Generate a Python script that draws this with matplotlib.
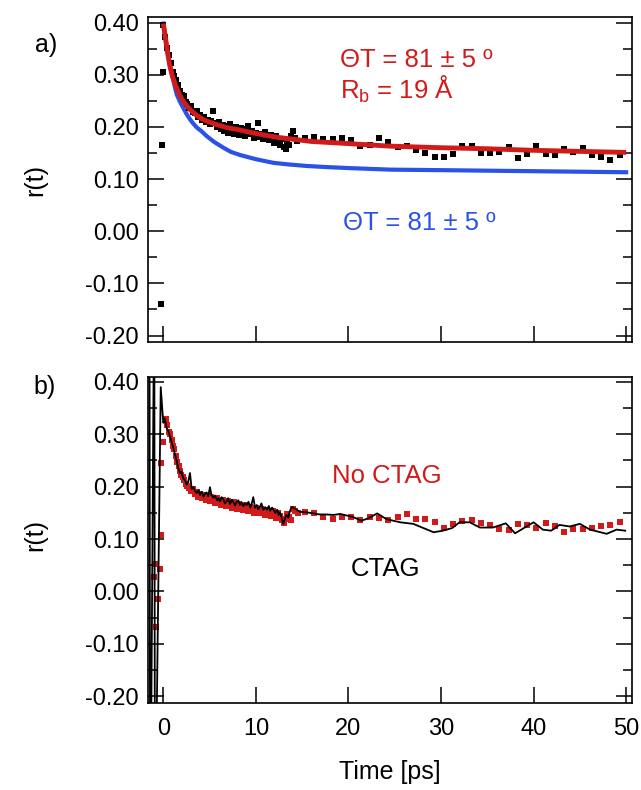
import numpy as np
import matplotlib.pyplot as plt
from matplotlib.ticker import MultipleLocator, FormatStrFormatter

plt.rcParams['font.family'] = ['Liberation Sans', 'DejaVu Sans']
plt.rcParams['mathtext.fontset'] = 'custom'
plt.rcParams['mathtext.rm'] = 'Liberation Sans'
plt.rcParams['mathtext.default'] = 'regular'

RED = '#d11a1a'
BLUE = '#2a52e6'

# ---- panel a: anisotropy decay with two model fits ----
t_a = [-0.3, -0.15, -0.05,
       0.0, 0.2, 0.4, 0.6, 0.8, 1.0, 1.2, 1.4, 1.6, 1.8, 2.0, 2.2, 2.4, 2.6, 2.8,
       3.0, 3.2, 3.4, 3.6, 3.8, 4.0, 4.2, 4.4, 4.6, 4.8, 5.0, 5.2, 5.4, 5.6, 5.8,
       6.0, 6.2, 6.4, 6.6, 6.8, 7.0, 7.2, 7.4, 7.6, 7.8, 8.0, 8.2, 8.4, 8.6, 8.8,
       9.0, 9.2, 9.4, 9.6, 9.8, 10.0, 10.2, 10.4, 10.6, 10.8, 11.0, 11.2, 11.4,
       11.6, 11.8, 12.0, 12.2, 12.4, 12.6, 12.8, 13.0, 13.2, 13.4, 13.6, 13.8,
       14.0, 14.2, 14.4,
       15.3, 16.3, 17.3, 18.3, 19.3, 20.3, 21.3, 22.3, 23.3, 24.3, 25.3, 26.3,
       27.3, 28.3, 29.3, 30.3, 31.3, 32.3, 33.3, 34.3, 35.3, 36.3, 37.3, 38.3,
       39.3, 40.3, 41.3, 42.3, 43.3, 44.3, 45.3, 46.3, 47.3, 48.3, 49.3]
r_a = [-0.140, 0.165, 0.305,
       0.395, 0.372, 0.352, 0.338, 0.322, 0.305, 0.298, 0.290, 0.280, 0.268,
       0.262, 0.259, 0.247, 0.243, 0.236, 0.240, 0.228, 0.226, 0.231, 0.219,
       0.222, 0.214, 0.218, 0.209, 0.213, 0.205, 0.212, 0.230, 0.207, 0.199,
       0.210, 0.196, 0.204, 0.192, 0.201, 0.189, 0.205, 0.196, 0.187, 0.199,
       0.193, 0.185, 0.197, 0.190, 0.183, 0.195, 0.201, 0.186, 0.192, 0.179,
       0.188, 0.208, 0.181, 0.187, 0.176, 0.191, 0.183, 0.174, 0.185, 0.178,
       0.170, 0.182, 0.172, 0.166, 0.177, 0.162, 0.158, 0.171, 0.165, 0.183,
       0.193, 0.178, 0.172,
       0.179, 0.181, 0.176, 0.176, 0.178, 0.174, 0.164, 0.166, 0.178, 0.171,
       0.162, 0.163, 0.155, 0.150, 0.142, 0.142, 0.148, 0.163, 0.164, 0.150,
       0.150, 0.151, 0.161, 0.140, 0.148, 0.164, 0.148, 0.146, 0.158, 0.151,
       0.159, 0.146, 0.142, 0.137, 0.146]

# fit with bulk rotation (red) and wobbling-only fit (blue)
t_fit_red = [0.0, 0.15, 0.3, 0.5, 0.7, 1.0, 1.25, 1.5, 1.8, 2.2, 2.6, 3.0,
             3.6, 4.1, 4.7, 5.3, 6.0, 7.0, 8.3, 9.5, 11.0, 12.3, 13.7, 16.0,
             19.0, 24.5, 30.0, 35.0, 40.0, 45.0, 50.0]
r_fit_red = [0.398, 0.380, 0.362, 0.338, 0.318, 0.296, 0.283, 0.272, 0.260,
             0.248, 0.239, 0.231, 0.222, 0.216, 0.211, 0.207, 0.203, 0.198,
             0.194, 0.189, 0.184, 0.180, 0.177, 0.172, 0.169, 0.163, 0.160,
             0.158, 0.155, 0.153, 0.151]
t_fit_blue = [0.0, 0.15, 0.3, 0.5, 0.7, 0.85, 1.08, 1.25, 1.45, 1.8, 2.16,
              2.5, 2.9, 3.2, 3.6, 4.1, 4.7, 5.5, 6.5, 7.3, 8.3, 10.0, 11.9,
              13.5, 15.5, 17.5, 20.0, 24.5, 30.0, 35.0, 40.0, 45.0, 50.0]
r_fit_blue = [0.398, 0.380, 0.362, 0.338, 0.318, 0.305, 0.290, 0.276, 0.262,
              0.248, 0.236, 0.225, 0.214, 0.207, 0.199, 0.192, 0.182, 0.171,
              0.160, 0.152, 0.146, 0.138, 0.131, 0.128, 0.125, 0.123, 0.121,
              0.118, 0.117, 0.116, 0.115, 0.114, 0.113]

# ---- panel b: with / without CTAG ----
t_noctag = [-1.0, -0.9, -0.79, -0.54, -0.36, -0.28, -0.25, -0.07,
            0.30, 0.45, 0.6, 0.75, 0.9, 1.05, 1.2, 1.35, 1.5, 1.65, 1.8, 1.95,
            2.1, 2.25, 2.4, 2.6, 2.8, 3.0, 3.2, 3.4, 3.6, 3.8, 4.0, 4.2, 4.4,
            4.6, 4.8, 5.0, 5.2, 5.4, 5.6, 5.8, 6.0, 6.2, 6.4, 6.6, 6.8, 7.0,
            7.2, 7.4, 7.6, 7.8, 8.0, 8.2, 8.4, 8.6, 8.8, 9.0, 9.2, 9.4, 9.6,
            9.8, 10.0, 10.2, 10.4, 10.6, 10.8, 11.0, 11.2, 11.4, 11.6, 11.8,
            12.0, 12.2, 12.4, 12.6, 12.8, 13.0, 13.2, 13.4, 13.6, 13.8, 14.0,
            14.2, 14.5,
            15.3, 16.3, 17.3, 18.3, 19.3, 20.3, 21.3, 22.3, 23.3, 24.3, 25.3,
            26.3, 27.3, 28.3, 29.3, 30.3, 31.3, 32.3, 33.3, 34.3, 35.3, 36.3,
            37.3, 38.3, 39.3, 40.3, 41.3, 42.3, 43.3, 44.3, 45.3, 46.3, 47.3,
            48.3, 49.3]
r_noctag = [0.027, 0.052, -0.067, -0.015, 0.043, 0.107, 0.245, 0.285,
            0.330, 0.318, 0.305, 0.300, 0.290, 0.278, 0.272, 0.258, 0.248,
            0.240, 0.230, 0.222, 0.219, 0.212, 0.206, 0.201, 0.197, 0.192,
            0.195, 0.186, 0.189, 0.181, 0.186, 0.178, 0.184, 0.175, 0.182,
            0.172, 0.180, 0.174, 0.169, 0.178, 0.171, 0.165, 0.175, 0.168,
            0.163, 0.172, 0.166, 0.160, 0.170, 0.163, 0.158, 0.167, 0.161,
            0.155, 0.165, 0.158, 0.153, 0.162, 0.156, 0.150, 0.160, 0.154,
            0.149, 0.157, 0.151, 0.146, 0.155, 0.149, 0.144, 0.153, 0.147,
            0.141, 0.150, 0.144, 0.137, 0.131, 0.139, 0.147, 0.142, 0.136,
            0.158, 0.153, 0.149,
            0.152, 0.149, 0.143, 0.138, 0.142, 0.142, 0.137, 0.143, 0.140,
            0.137, 0.143, 0.148, 0.138, 0.138, 0.132, 0.122, 0.129, 0.134,
            0.137, 0.130, 0.126, 0.120, 0.117, 0.128, 0.126, 0.122, 0.131,
            0.124, 0.114, 0.120, 0.119, 0.121, 0.124, 0.126, 0.133]

t_ctag = [-1.5, -1.42, -0.98, -0.9, -0.72, -0.28,
          -0.1, 0.0, 0.15, 0.36, 0.55, 0.72, 0.9, 1.08, 1.25, 1.44, 1.6, 1.8,
          1.95, 2.16, 2.35, 2.52, 2.7, 2.88, 3.06, 3.25, 3.42, 3.6, 3.8, 3.96,
          4.15, 4.35, 4.5, 4.68, 4.85, 5.04, 5.2, 5.4, 5.6, 5.8, 5.95, 6.12,
          6.3, 6.48, 6.65, 6.84, 7.0, 7.2, 7.4, 7.56, 7.75, 7.9, 8.1, 8.28,
          8.45, 8.65, 8.8, 9.0, 9.2, 9.4, 9.55, 9.72, 9.9, 10.1, 10.25, 10.44,
          10.6, 10.8, 11.0, 11.2, 11.4, 11.55, 11.75, 11.9, 12.1, 12.3, 12.45,
          12.6, 12.8, 12.96, 13.1, 13.3, 13.5, 13.7, 13.9, 14.3, 14.76,
          15.5, 16.2, 16.9, 17.6, 18.4, 19.1, 20.5, 21.4, 22.2, 23.1, 24.1,
          25.6, 27.0, 29.2, 30.2, 31.2, 32.0, 33.1, 34.2, 35.6, 37.0, 38.0,
          40.0, 41.0, 41.9, 42.8, 43.9, 45.0, 46.1, 47.9, 48.96, 49.9]
r_ctag = [0.60, -0.55, 0.60, -0.55, -0.25, 0.390,
          0.345, 0.322, 0.330, 0.312, 0.306, 0.296, 0.285, 0.274, 0.262,
          0.250, 0.236, 0.226, 0.229, 0.216, 0.212, 0.204, 0.210, 0.226,
          0.196, 0.199, 0.192, 0.188, 0.193, 0.184, 0.190, 0.181, 0.187,
          0.189, 0.182, 0.199, 0.184, 0.179, 0.183, 0.174, 0.178, 0.172,
          0.180, 0.176, 0.168, 0.172, 0.178, 0.167, 0.175, 0.171, 0.164,
          0.170, 0.174, 0.165, 0.170, 0.163, 0.168, 0.165, 0.171, 0.160,
          0.168, 0.180, 0.160, 0.165, 0.157, 0.162, 0.168, 0.156, 0.161,
          0.156, 0.163, 0.154, 0.160, 0.156, 0.150, 0.156, 0.146, 0.151,
          0.140, 0.129, 0.137, 0.146, 0.141, 0.155, 0.161, 0.157, 0.152,
          0.151, 0.149, 0.147, 0.147, 0.146, 0.148, 0.142, 0.135, 0.140,
          0.149, 0.138, 0.132, 0.129, 0.113, 0.116, 0.121, 0.132, 0.132,
          0.122, 0.122, 0.130, 0.111, 0.132, 0.118, 0.116, 0.127, 0.124,
          0.129, 0.118, 0.110, 0.118, 0.116]

fig = plt.figure(figsize=(6.41, 7.90), dpi=100)
ax_a = fig.add_axes([0.2314, 0.5667, 0.7541, 0.4114])
ax_b = fig.add_axes([0.2314, 0.1101, 0.7541, 0.4131])

ax_a.plot(t_fit_blue, r_fit_blue, color=BLUE, lw=3.0, zorder=2)
ax_a.plot(t_a, r_a, 's', color='black', ms=4.3, mew=0, zorder=3)
ax_a.plot(t_fit_red, r_fit_red, color=RED, lw=3.5, zorder=4,
          solid_capstyle='butt')

ax_b.plot(t_noctag, r_noctag, 's', color=RED, ms=4.6, mew=0, zorder=2)
ax_b.plot(t_ctag, r_ctag, color='black', lw=1.3, zorder=3)

for ax in (ax_a, ax_b):
    ax.set_xlim(-1.62, 50.6)
    ax.set_ylim(-0.213, 0.41)
    ax.xaxis.set_major_locator(MultipleLocator(10))
    ax.yaxis.set_major_locator(MultipleLocator(0.1))
    ax.yaxis.set_minor_locator(MultipleLocator(0.05))
    ax.yaxis.set_major_formatter(FormatStrFormatter('%.2f'))
    ax.tick_params(which='both', direction='in', left=True, right=True,
                   top=False, bottom=True, width=1.1, labelsize=17)
    ax.tick_params(which='major', length=11.5, pad=7)
    ax.tick_params(which='minor', length=6.5)
    ax.tick_params(axis='x', pad=11)
    for sp in ax.spines.values():
        sp.set_linewidth(1.2)

ax_a.tick_params(axis='x', labelbottom=False)
ax_b.set_xlabel('Time [ps]', fontsize=18, labelpad=14)

# annotations
ax_a.text(19.1, 0.329, 'ΘT = 81 ± 5 º', color=RED, fontsize=18.5,
          va='center', ha='left')
ax_a.text(19.1, 0.271, 'R$_{b}$ = 19 Å', color=RED, fontsize=18.5,
          va='center', ha='left')
ax_a.text(19.4, 0.015, 'ΘT = 81 ± 5 º', color=BLUE, fontsize=18.5,
          va='center', ha='left')
ax_b.text(18.25, 0.221, 'No CTAG', color=RED, fontsize=18.5,
          va='center', ha='left')
ax_b.text(20.3, 0.043, 'CTAG', color='black', fontsize=18.5,
          va='center', ha='left')

fig.text(35 / 641, 1 - 180 / 790, 'r(t)', rotation=90, fontsize=18,
         ha='center', va='center')
fig.text(35 / 641, 1 - 535 / 790, 'r(t)', rotation=90, fontsize=18,
         ha='center', va='center')
fig.text(46 / 641, 1 - 45 / 790, 'a)', fontsize=18, ha='center', va='center')
fig.text(45 / 641, 1 - 387 / 790, 'b)', fontsize=18, ha='center', va='center')

fig.savefig('out.png', dpi=100)
